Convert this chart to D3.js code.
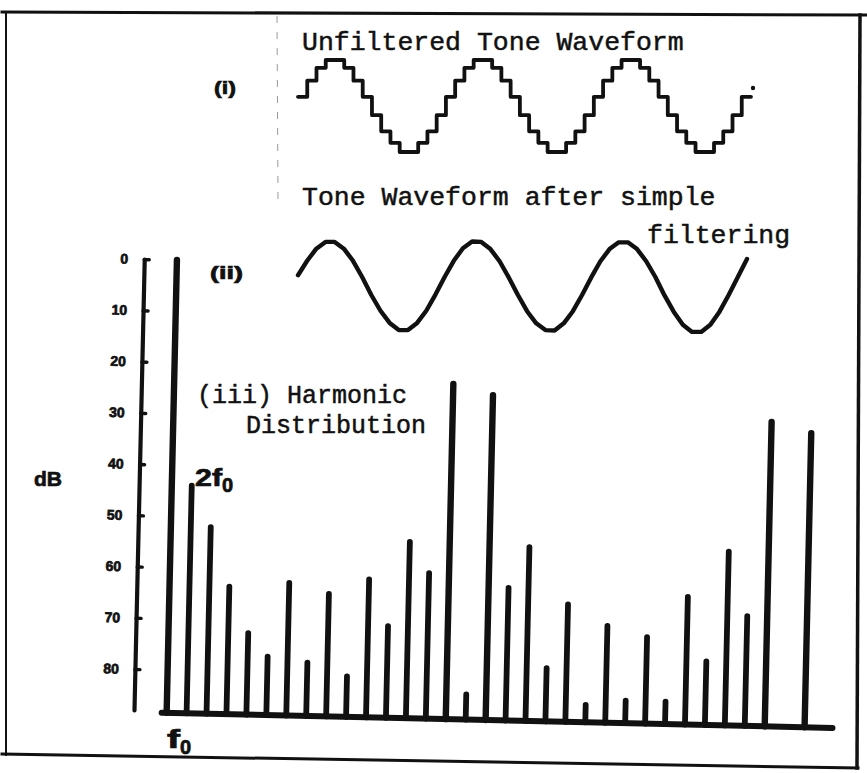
<!DOCTYPE html>
<html>

<head>
    <meta charset="utf-8">
    <title>Tone Waveforms and Harmonic Distribution</title>
    <script src="https://d3js.org/d3.v7.min.js"></script>
    <style>
        body {
            margin: 0;
            background: #fff;
        }

        .mono {
            font-family: 'Liberation Mono', 'Courier New', monospace;
            fill: #111;
            stroke: #111;
            stroke-width: 0.5px;
        }

        .bold {
            font-family: 'Liberation Sans', Arial, sans-serif;
            font-weight: bold;
            fill: #111;
        }

        .heavy {
            stroke: #111;
            stroke-width: 0.7px;
        }

        .wave {
            fill: none;
            stroke: #111;
        }
    </style>
</head>

<body>
    <div id="chart"></div>
    <script>
        // (i) unfiltered tone: one level per sample step (-1 = trough, 1 = crest)
        const stepLevels = [
            0.2, 0.55, 0.83, 1.0, 1.0, 0.83, 0.55, 0.2, -0.2, -0.55, -0.8, -1.0, -1.0, -0.8, -0.55, -0.2,
            0.2, 0.55, 0.83, 1.0, 1.0, 0.83, 0.55, 0.2, -0.2, -0.55, -0.8, -1.0, -1.0, -0.8, -0.55, -0.2,
            0.2, 0.55, 0.83, 1.0, 1.0, 0.83, 0.55, 0.2, -0.2, -0.55, -0.8, -1.0, -1.0, -0.8, -0.55, -0.2,
            0.2
        ];

        // (ii) tone after simple filtering, one point per sample
        const filteredLevels = [
            0.24, 0.56, 0.83, 0.98, 0.98, 0.83, 0.56, 0.2, -0.2, -0.55, -0.82, -0.98, -0.98, -0.82, -0.55, -0.19,
            0.2, 0.56, 0.84, 0.99, 0.98, 0.82, 0.55, 0.19, -0.2, -0.56, -0.83, -0.98, -0.99, -0.83, -0.56, -0.2,
            0.19, 0.55, 0.82, 0.97, 0.97, 0.82, 0.55, 0.2, -0.21, -0.57, -0.86, -1.02, -1.02, -0.86, -0.57, -0.2,
            0.2, 0.6
        ];

        // (iii) harmonic number and level in dB below the fundamental
        const harmonicNumbers = [1, 2, 3, 4, 5, 6, 7, 8, 9, 10, 11, 12, 13, 14, 15, 16,
            17, 18, 19, 20, 21, 22, 23, 24, 25, 26, 27, 28, 29, 30, 31, 33];
        const harmonicDb = [0, 44, 52, 63.5, 72.5, 77, 62.5, 78, 64.5, 80.5, 61.5, 70.5, 54, 60, 23, 83.5,
            25, 62.5, 54.5, 78, 65.5, 85, 69.5, 84, 71.5, 84, 63.5, 76, 54.5, 67, 29, 31];
        const dbTicks = [0, 10, 20, 30, 40, 50, 60, 70, 80];

        const width = 867, height = 773;

        const svg = d3.select("#chart").append("svg")
            .attr("width", width)
            .attr("height", height);

        // page frame (scanned box)
        const frame = svg.append("g").attr("stroke", "#111").attr("stroke-linecap", "square");
        frame.append("line").attr("x1", 2).attr("y1", 12).attr("x2", 866).attr("y2", 15).attr("stroke-width", 3);
        frame.append("line").attr("x1", 6).attr("y1", 12).attr("x2", 6).attr("y2", 755).attr("stroke-width", 2);
        frame.append("line").attr("x1", 860).attr("y1", 15).attr("x2", 857).attr("y2", 768).attr("stroke-width", 3.5);
        frame.append("line").attr("x1", 2).attr("y1", 754).attr("x2", 858).attr("y2", 768).attr("stroke-width", 3);
        // faint fold line of the scan
        svg.append("line").attr("x1", 277).attr("y1", 16).attr("x2", 278).attr("y2", 200)
            .attr("stroke", "#999").attr("stroke-width", 1).attr("stroke-dasharray", "7,9");

        // ---------- (i) unfiltered tone waveform ----------
        const xs = d3.scaleLinear().domain([0, stepLevels.length]).range([298, 751]);
        const ys = d3.scaleLinear().domain([-1, 1]).range([152, 60]);
        const stepPts = stepLevels.map((v, i) => [i, v]);
        stepPts.push([stepLevels.length, stepLevels[stepLevels.length - 1]]);

        svg.append("path")
            .datum(stepPts)
            .attr("class", "wave")
            .attr("stroke-width", 3.8)
            .attr("stroke-linejoin", "round")
            .attr("stroke-linecap", "round")
            .attr("d", d3.line().x(d => xs(d[0])).y(d => ys(d[1])).curve(d3.curveStepAfter));
        // stray ink dot after the waveform
        svg.append("circle").attr("cx", 753).attr("cy", 88).attr("r", 2.2).attr("fill", "#111");

        svg.append("text").attr("class", "mono").attr("font-size", 26.5)
            .attr("x", 302).attr("y", 50).text("Unfiltered Tone Waveform");
        svg.append("text").attr("class", "bold heavy").attr("font-size", 18)
            .attr("x", 214).attr("y", 94).attr("textLength", 22).attr("lengthAdjust", "spacingAndGlyphs")
            .text("(i)");

        // ---------- (ii) filtered tone waveform ----------
        const xf = d3.scaleLinear().domain([0, filteredLevels.length - 1]).range([298, 747]);
        const yf = d3.scaleLinear().domain([-1, 1]).range([331, 241]);

        svg.append("path")
            .datum(filteredLevels)
            .attr("class", "wave")
            .attr("stroke-width", 4.4)
            .attr("stroke-linecap", "round")
            .attr("stroke-linejoin", "round")
            .attr("d", d3.line().x((d, i) => xf(i)).y(d => yf(d)).curve(d3.curveLinear));

        svg.append("text").attr("class", "mono").attr("font-size", 26.5)
            .attr("x", 302).attr("y", 205).text("Tone Waveform after simple");
        svg.append("text").attr("class", "mono").attr("font-size", 26.5)
            .attr("x", 647).attr("y", 243).text("filtering");
        svg.append("text").attr("class", "bold heavy").attr("font-size", 18)
            .attr("x", 210).attr("y", 279).attr("textLength", 33).attr("lengthAdjust", "spacingAndGlyphs")
            .text("(ii)");

        // ---------- (iii) harmonic distribution ----------
        // the drawing sits slightly tilted on the page
        const plot = svg.append("g").attr("transform", "translate(134,710) rotate(1.3)");

        const x = d3.scaleLinear().domain([1, 33]).range([32.7, 670.8]);
        const y = d3.scaleLinear().domain([0, 88]).range([-451, 0]);
        const floorDb = 88.4;

        const yAxis = plot.append("g")
            .call(d3.axisLeft(y).tickValues(dbTicks).tickSizeInner(-5).tickSizeOuter(0).tickPadding(16));
        yAxis.select(".domain").attr("stroke", "#111").attr("stroke-width", 4.2).attr("stroke-linecap", "round");
        yAxis.selectAll(".tick line").attr("stroke", "#111").attr("stroke-width", 3.4).attr("stroke-linecap", "round");
        yAxis.selectAll(".tick text")
            .attr("class", "bold heavy")
            .attr("font-family", null)
            .attr("font-size", 14);

        // frequency baseline
        plot.append("line")
            .attr("x1", x(0.75)).attr("x2", x(34.4))
            .attr("y1", y(floorDb)).attr("y2", y(floorDb))
            .attr("stroke", "#111").attr("stroke-width", 6).attr("stroke-linecap", "round");

        plot.selectAll("line.bar")
            .data(harmonicNumbers)
            .join("line")
            .attr("class", "bar")
            .attr("x1", d => x(d)).attr("x2", d => x(d))
            .attr("y1", y(floorDb))
            .attr("y2", (d, i) => y(harmonicDb[i]))
            .attr("stroke", "#111")
            .attr("stroke-width", (d, i) => harmonicDb[i] < 40 ? 6.4 : 5.8)
            .attr("stroke-linecap", "round");

        svg.append("text").attr("class", "mono").attr("font-size", 25)
            .attr("x", 197).attr("y", 403).text("(iii) Harmonic");
        svg.append("text").attr("class", "mono").attr("font-size", 25)
            .attr("x", 246).attr("y", 433).text("Distribution");

        svg.append("text").attr("class", "bold heavy").attr("font-size", 21)
            .attr("x", 48).attr("y", 486).attr("text-anchor", "middle")
            .text("dB");

        // 2f0 and f0 markers
        svg.append("text").attr("class", "bold heavy").attr("font-size", 23.5)
            .attr("x", 195).attr("y", 486).attr("textLength", 27).attr("lengthAdjust", "spacingAndGlyphs")
            .text("2f");
        svg.append("text").attr("class", "bold heavy").attr("font-size", 20)
            .attr("x", 222).attr("y", 492).text("0");
        svg.append("text").attr("class", "bold heavy").attr("font-size", 25)
            .attr("x", 167).attr("y", 748).attr("textLength", 13).attr("lengthAdjust", "spacingAndGlyphs")
            .text("f");
        svg.append("text").attr("class", "bold heavy").attr("font-size", 20)
            .attr("x", 180).attr("y", 754).text("0");
    </script>
</body>

</html>
